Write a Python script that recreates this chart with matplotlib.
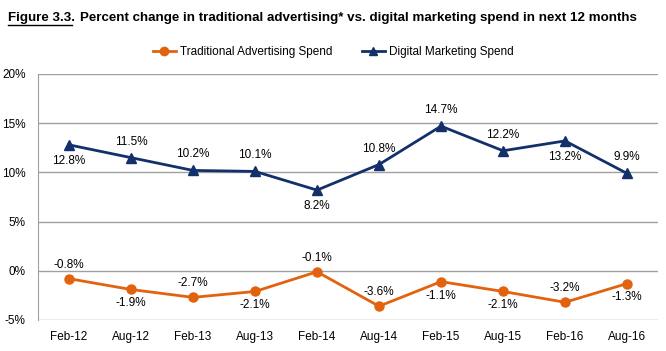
import matplotlib.pyplot as plt
from matplotlib.lines import Line2D
import numpy as np

plt.rcParams['font.family'] = ['Liberation Sans Narrow', 'Liberation Sans', 'DejaVu Sans']

periods = ["Feb-12", "Aug-12", "Feb-13", "Aug-13", "Feb-14",
           "Aug-14", "Feb-15", "Aug-15", "Feb-16", "Aug-16"]
traditional = [-0.8, -1.9, -2.7, -2.1, -0.1, -3.6, -1.1, -2.1, -3.2, -1.3]
digital = [12.8, 11.5, 10.2, 10.1, 8.2, 10.8, 14.7, 12.2, 13.2, 9.9]
# label placement: +1 above the point, -1 below
trad_side = [1, -1, 1, -1, 1, 1, -1, -1, 1, -1]
dig_side = [-1, 1, 1, 1, -1, 1, 1, 1, -1, 1]

orange = '#E2620E'
navy = '#13306A'

fig = plt.figure(figsize=(6.66, 3.51), dpi=100)
ax = fig.add_axes([38 / 666, 1 - 320 / 351, 620 / 666, 246 / 351])

x = np.arange(len(periods))
ax.plot(x, traditional, color=orange, lw=2, marker='o', ms=6.5)
ax.plot(x, digital, color=navy, lw=2, marker='^', ms=6.5)

for xi, v, s in zip(x, traditional, trad_side):
    ax.annotate(f"{v}%", (xi, v), xytext=(0, 10 * s), textcoords='offset points',
                ha='center', va='center', fontsize=8.5)
for xi, v, s in zip(x, digital, dig_side):
    ax.annotate(f"{v}%", (xi, v), xytext=(0, 11.5 * s), textcoords='offset points',
                ha='center', va='center', fontsize=8.5)

ax.set_xlim(-0.5, len(periods) - 0.5)
ax.set_ylim(-5, 20)
ax.set_yticks(range(-5, 21, 5))
ax.set_yticklabels([f"{t}%" for t in range(-5, 21, 5)], fontsize=8.5)
ax.set_xticks(x)
ax.set_xticklabels(periods, fontsize=8.5)
ax.tick_params(axis='x', length=0, pad=8)
ax.tick_params(axis='y', length=0, pad=9)
ax.grid(axis='y', color='#A0A0A0', lw=1)
ax.set_axisbelow(True)
for side in ['top', 'right', 'bottom']:
    ax.spines[side].set_visible(False)
ax.spines['left'].set_color('#A0A0A0')

handles = [Line2D([], [], color=orange, lw=2, marker='o', ms=6),
           Line2D([], [], color=navy, lw=2, marker='^', ms=6)]
fig.legend(handles, ["Traditional Advertising Spend", "Digital Marketing Spend"],
           loc='center', bbox_to_anchor=(0.5, 1 - 52 / 351), ncol=2, frameon=False,
           fontsize=8.5, handlelength=2, columnspacing=2.5, handletextpad=0.3)

t1 = fig.text(8 / 666, 1 - 18 / 351, "Figure 3.3.", fontsize=9.6, fontweight='bold', va='center')
fig.canvas.draw()
bb = t1.get_window_extent()
fig.add_artist(Line2D([bb.x0 / 666, bb.x1 / 666 - 0.004], [(bb.y0 - 1) / 351] * 2,
                      color='black', lw=1))
fig.text(bb.x1 / 666 + 0.008, 1 - 18 / 351,
         "Percent change in traditional advertising* vs. digital marketing spend in next 12 months",
         fontsize=9.6, fontweight='bold', va='center')

fig.savefig("out.png", dpi=100)
